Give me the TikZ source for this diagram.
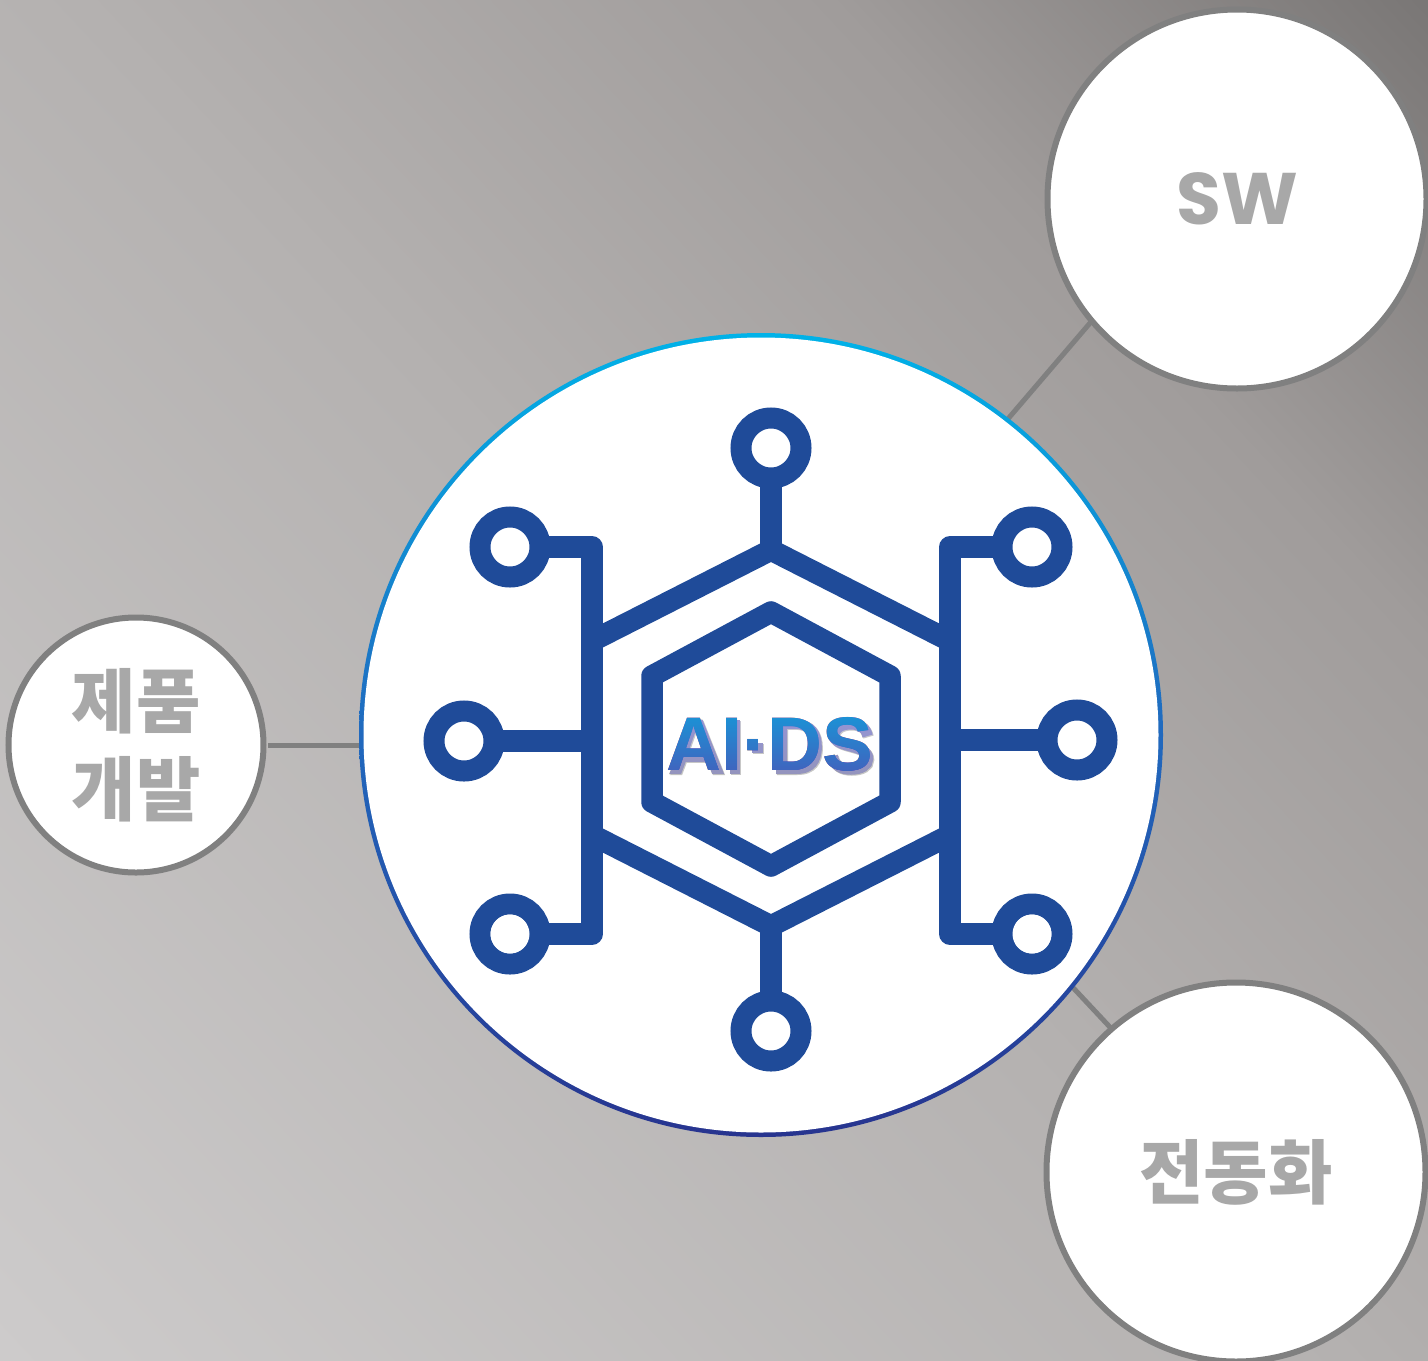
\documentclass[tikz,border=0pt]{standalone}
\usepackage{fontspec}
\setmainfont{Liberation Sans}
\newfontfamily\aidsf{Liberation Sans Bold}
\newfontfamily\krfont{Noto Sans CJK KR Black}
\newfontfamily\swfont{Poppins Bold}
\definecolor{iconblue}{HTML}{1F4B99}
\definecolor{linegray}{HTML}{808080}
\definecolor{labelgray}{HTML}{A8A8A8}
\definecolor{ringa}{HTML}{00B2E8}
\definecolor{ringb}{HTML}{2169BE}
\definecolor{ringc}{HTML}{27348F}
\definecolor{bga}{HTML}{CDCBCB}
\definecolor{bgb}{HTML}{B4B1B0}
\definecolor{bgc}{HTML}{A09C9B}
\definecolor{bgd}{HTML}{7A7776}
\definecolor{texta}{HTML}{1A93D6}
\definecolor{textb}{HTML}{4360BC}
\pgfdeclareverticalshading{bgaxis}{100bp}{
  color(0bp)=(bga);color(25bp)=(bga);color(50bp)=(bgb);color(64bp)=(bgc);color(75bp)=(bgd);color(100bp)=(bgd)}
\pgfdeclareverticalshading{ringaxis}{100bp}{
  color(0bp)=(ringc);color(25bp)=(ringc);color(50bp)=(ringb);color(75bp)=(ringa);color(100bp)=(ringa)}
\pgfdeclareverticalshading{textaxis}{100bp}{
  color(0bp)=(textb);color(25bp)=(textb);color(75bp)=(texta);color(100bp)=(texta)}
\tikzset{
  sidecircle/.style={circle,draw=linegray,line width=6pt,fill=white,inner sep=0pt,text=labelgray,align=center},
  krlabel/.style={font=\krfont\fontsize{70}{88}\selectfont},
  linkline/.style={draw=linegray,line width=5pt},
  iconline/.style={draw=iconblue,line width=21.5pt,line join=round},
  iconring/.style={circle,draw=iconblue,line width=21pt,fill=white,minimum size=60pt,inner sep=0pt},
  aidsfont/.style={font=\aidsf\fontsize{76}{76}\selectfont},
}
\newcommand{\aidsshape}[1]{%
  \begin{scope}[shift={#1},x=76pt,y=76pt,line width=10.6pt]
    \fill[even odd rule] (0,0) -- (.284,.716) -- (.437,.716) -- (.722,0) -- (.565,0) -- (.503,.16) -- (.218,.16) -- (.157,0) -- cycle
      (.248,.28) -- (.455,.28) -- (.35,.57) -- cycle;
    \fill (.722+.072,0) rectangle (.722+.216,.716);
    \fill (1+.095,.27) rectangle (1+.238,.41);
    \fill[even odd rule]
      (1.333+.073,0) -- (1.333+.073,.716) -- (1.333+.34,.716) .. controls (1.333+.58,.716) and (1.333+.676,.56) .. (1.333+.676,.358)
      .. controls (1.333+.676,.15) and (1.333+.58,0) .. (1.333+.34,0) -- cycle
      (1.333+.218,.121) -- (1.333+.218,.595) -- (1.333+.32,.595) .. controls (1.333+.47,.595) and (1.333+.53,.5) .. (1.333+.53,.358)
      .. controls (1.333+.53,.21) and (1.333+.47,.121) .. (1.333+.32,.121) -- cycle;
    \draw[line cap=butt] (2.055+.555,.50) .. controls (2.055+.53,.62) and (2.055+.44,.655) .. (2.055+.335,.655)
      .. controls (2.055+.20,.655) and (2.055+.115,.60) .. (2.055+.115,.51)
      .. controls (2.055+.115,.33) and (2.055+.56,.40) .. (2.055+.56,.20)
      .. controls (2.055+.56,.11) and (2.055+.47,.06) .. (2.055+.335,.06)
      .. controls (2.055+.20,.06) and (2.055+.12,.11) .. (2.055+.095,.235);
  \end{scope}}
\begin{document}
\begin{tikzpicture}[x=1pt,y=-1pt]
\useasboundingbox (0,0) rectangle (1428,1361);
% background
\begin{scope}
  \clip (0,0) rectangle (1428,1361);
  \shade[shading=bgaxis,shading angle=-47] (714,680.5) circle (986);
\end{scope}
% nodes
\node[circle,inner sep=0pt,minimum size=803pt] (main) at (761,735) {};
\node[circle,inner sep=0pt,minimum size=378pt] (swo) at (1237,199) {};
\node[circle,inner sep=0pt,minimum size=258pt] (devo) at (136,745) {};
\node[circle,inner sep=0pt,minimum size=380pt] (eleco) at (1236,1172) {};
% connectors
\draw[linkline] (swo.220.5) -- (main.52);
\draw[linkline,shorten <=3pt] (devo.east) -- (devo.east -| main.west);
\draw[linkline] (eleco.131) -- (main.-39.4);
\node[sidecircle,minimum size=379pt,font=\swfont\fontsize{73}{73}\selectfont] (sw) at (1237,199) {SW};
\node[sidecircle,minimum size=255pt,krlabel] (dev) at (136,745) {제품\\개발};
\node[sidecircle,minimum size=379pt,krlabel] (elec) at (1236,1172) {전동화};
\shade[shading=ringaxis] (main.center) circle (402);
\fill[white] (main.center) circle (397.5);
% rings
\node[iconring] (r1) at (771,448) {};
\node[iconring] (r2) at (1032,547) {};
\node[iconring] (r3) at (1077,740) {};
\node[iconring] (r4) at (1032,934) {};
\node[iconring] (r5) at (771,1031) {};
\node[iconring] (r6) at (510,934) {};
\node[iconring] (r7) at (464,741) {};
\node[iconring] (r8) at (510,547) {};
% hexagons
\coordinate (ot) at (771,550);
\coordinate (ob) at (771,926);
\draw[iconline] (592,641) -- (ot) -- (950,641);
\draw[iconline] (592,835) -- (ob) -- (950,835);
\draw[iconline,shorten <=-4pt] (r8) -- (592,547) -- (592,934) -- (510,934);
\draw[iconline,shorten <=-4pt] (r2) -- (950,547) -- (950,934) -- (1032,934);
\draw[iconline,shorten <=-4pt] (r7) -- (592,741);
\draw[iconline,shorten <=-4pt] (r3) -- (950,740);
\draw[iconline,shorten <=-4pt] (r1) -- (ot);
\draw[iconline,shorten <=-4pt] (r5) -- (ob);
\draw[iconline] (771,612) -- (890,676) -- (890,802) -- (771,866) -- (652,802) -- (652,676) -- cycle;
\foreach \r in {r4,r6} \fill[white] (\r) circle (19.5);
% label: soft shadow, then the text, turned into a gradient by a lighten overlay
\begin{scope}[color=black!22]\aidsshape{(670.2,775)}\end{scope}
\begin{scope}[color=black!42]\aidsshape{(669.2,774)}\end{scope}
\node[inner sep=0pt,text=black,aidsfont] (aids) at (770,744) {AI·DS};
\begin{scope}[blend mode=lighten]
  \shade[shading=textaxis] (664,714) rectangle (878,776);
\end{scope}
\end{tikzpicture}
\end{document}
